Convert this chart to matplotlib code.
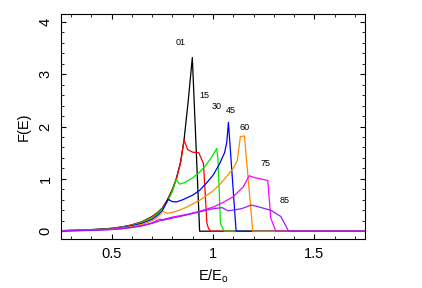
import matplotlib
matplotlib.use("Agg")
import matplotlib.pyplot as plt
from matplotlib.ticker import MultipleLocator, FuncFormatter

# curves labelled by angle
x01 = [0.25, 0.30, 0.35, 0.40, 0.45, 0.50, 0.55, 0.60, 0.65, 0.70, 0.725, 0.75, 0.775,
       0.80, 0.82, 0.84, 0.857, 0.878, 0.898, 0.934, 1.75]
y01 = [0.01, 0.015, 0.02, 0.03, 0.04, 0.055, 0.08, 0.12, 0.18, 0.28, 0.35, 0.44, 0.60,
       0.80, 1.02, 1.32, 1.74, 2.50, 3.32, 0.0, 0.0]

x15 = [0.25, 0.30, 0.35, 0.40, 0.45, 0.50, 0.55, 0.60, 0.65, 0.70, 0.725, 0.75, 0.775,
       0.80, 0.82, 0.84, 0.857, 0.875, 0.90, 0.93, 0.953, 0.97, 0.978, 0.99, 1.75]
y15 = [0.01, 0.015, 0.02, 0.03, 0.04, 0.055, 0.08, 0.12, 0.18, 0.28, 0.35, 0.44, 0.59,
       0.79, 1.01, 1.31, 1.74, 1.56, 1.51, 1.50, 1.29, 0.15, 0.05, 0.0, 0.0]

x30 = [0.25, 0.30, 0.35, 0.40, 0.45, 0.50, 0.55, 0.60, 0.65, 0.70, 0.725, 0.75, 0.775,
       0.80, 0.819, 0.835, 0.86, 0.90, 0.934, 0.96, 0.985, 1.0, 1.018, 1.024, 1.037,
       1.048, 1.056, 1.75]
y30 = [0.01, 0.014, 0.019, 0.028, 0.038, 0.052, 0.075, 0.11, 0.17, 0.26, 0.33, 0.42, 0.56,
       0.76, 0.99, 0.90, 0.93, 1.02, 1.13, 1.24, 1.37, 1.46, 1.58, 1.40, 0.15, 0.05, 0.0, 0.0]

x45 = [0.25, 0.30, 0.35, 0.40, 0.45, 0.50, 0.55, 0.60, 0.65, 0.70, 0.725, 0.75, 0.778,
       0.80, 0.82, 0.85, 0.90, 0.934, 0.97, 1.0, 1.03, 1.057, 1.068, 1.076, 1.114, 1.75]
y45 = [0.01, 0.013, 0.018, 0.026, 0.035, 0.048, 0.068, 0.10, 0.15, 0.23, 0.30, 0.39, 0.61,
       0.565, 0.56, 0.60, 0.69, 0.78, 0.93, 1.07, 1.27, 1.50, 1.70, 2.08, 0.0, 0.0]

x60 = [0.25, 0.30, 0.35, 0.40, 0.45, 0.50, 0.55, 0.60, 0.65, 0.70, 0.73, 0.753, 0.775,
       0.82, 0.87, 0.934, 1.0, 1.04, 1.07, 1.10, 1.12, 1.135, 1.155, 1.196, 1.75]
y60 = [0.01, 0.012, 0.016, 0.022, 0.03, 0.042, 0.06, 0.088, 0.13, 0.20, 0.28, 0.38, 0.34,
       0.38, 0.46, 0.59, 0.77, 0.92, 1.06, 1.20, 1.35, 1.81, 1.82, 0.0, 0.0]

x75 = [0.25, 0.30, 0.35, 0.40, 0.45, 0.50, 0.55, 0.60, 0.65, 0.70, 0.737, 0.75, 0.80,
       0.87, 0.934, 1.0, 1.05, 1.10, 1.15, 1.178, 1.21, 1.27, 1.285, 1.31, 1.75]
y75 = [0.005, 0.008, 0.012, 0.017, 0.024, 0.035, 0.05, 0.075, 0.11, 0.16, 0.23, 0.22, 0.27,
       0.32, 0.38, 0.46, 0.55, 0.66, 0.85, 1.06, 1.02, 0.97, 0.25, 0.0, 0.0]

x85 = [0.25, 0.30, 0.35, 0.40, 0.45, 0.50, 0.55, 0.60, 0.65, 0.70, 0.74, 0.80, 0.87,
       0.934, 1.0, 1.045, 1.075, 1.14, 1.19, 1.23, 1.285, 1.335, 1.373, 1.75]
y85 = [0.005, 0.007, 0.011, 0.016, 0.022, 0.032, 0.046, 0.07, 0.10, 0.15, 0.20, 0.25, 0.31,
       0.37, 0.43, 0.45, 0.39, 0.43, 0.50, 0.46, 0.40, 0.28, 0.0, 0.0]

labels = ["01", "15", "30", "45", "60", "75", "85"]
label_x = [0.842, 0.958, 1.017, 1.09, 1.155, 1.257, 1.355]
label_y = [3.6, 2.59, 2.39, 2.30, 1.99, 1.29, 0.59]

colors = ["black", "#ff0000", "#00e600", "#0000ff", "#ff8c00", "#ff00ff", "#9020ff"]
xs = [x01, x15, x30, x45, x60, x75, x85]
ys = [y01, y15, y30, y45, y60, y75, y85]

plt.rcParams["font.family"] = ["Liberation Sans", "DejaVu Sans"]
fig = plt.figure(figsize=(4.22, 2.88), dpi=100)
ax = fig.add_axes([0.1445, 0.170, 0.7205, 0.781])

for x, y, c in zip(xs, ys, colors):
    ax.plot(x, y, color=c, lw=0.9)

# angle labels next to each curve
for t, lx, ly in zip(labels, label_x, label_y):
    ax.text(lx, ly, t, fontsize=6.5, ha="center", va="center")

ax.set_xlim(0.25, 1.75)
ax.set_ylim(-0.15, 4.15)
ax.xaxis.set_major_locator(MultipleLocator(0.5))
ax.xaxis.set_minor_locator(MultipleLocator(0.1))
ax.yaxis.set_major_locator(MultipleLocator(1))
ax.yaxis.set_minor_locator(MultipleLocator(0.2))
ax.xaxis.set_major_formatter(FuncFormatter(lambda v, p: "%g" % v))
ax.yaxis.set_major_formatter(FuncFormatter(lambda v, p: "%g" % v))
ax.tick_params(which="both", direction="in", top=True, right=True, labelsize=10.5)
ax.tick_params(which="major", length=3.5, pad=6)
ax.tick_params(which="minor", length=2)
ax.tick_params(axis="y", labelrotation=90)
for lab in ax.get_yticklabels():
    lab.set_va("center")
ax.set_xlabel(r"E/E$_\mathregular{o}$", fontsize=10.5, labelpad=4)
ax.set_ylabel("F(E)", fontsize=10.5, labelpad=6)

fig.savefig("out.png", dpi=100)
